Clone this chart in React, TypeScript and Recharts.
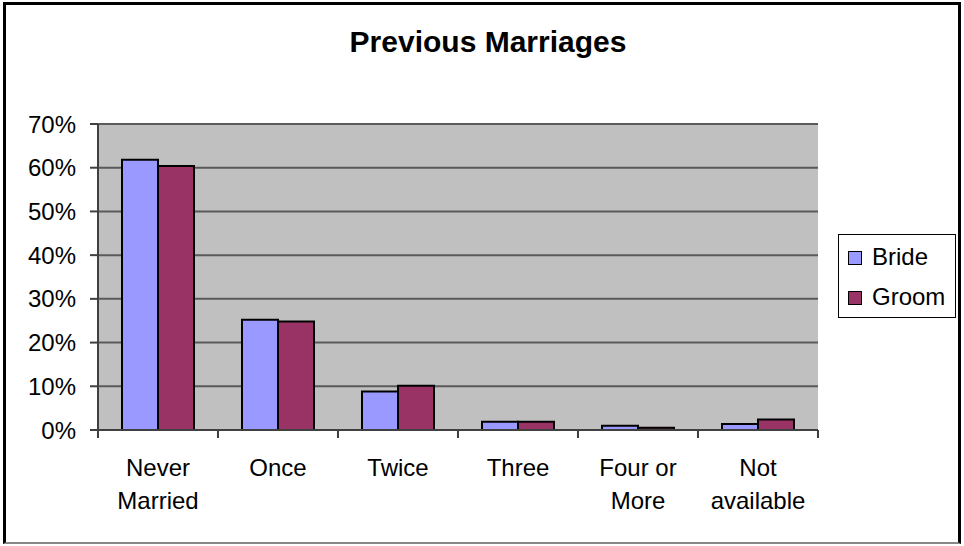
import React from 'react';
import { BarChart, Bar, XAxis, YAxis, CartesianGrid, Legend } from 'recharts';

// Previous marriages, share of brides and grooms
const categories = ['Never\nMarried', 'Once', 'Twice', 'Three', 'Four or\nMore', 'Not\navailable'];
const bride = [0.618, 0.252, 0.088, 0.019, 0.010, 0.014];
const groom = [0.604, 0.248, 0.101, 0.019, 0.005, 0.024];
const yTicks = [0, 0.1, 0.2, 0.3, 0.4, 0.5, 0.6, 0.7];

const data = categories.map((name, i) => ({ name, Bride: bride[i], Groom: groom[i] }));

const FONT = '"Liberation Sans", Arial, sans-serif';
const BRIDE_COLOR = '#9999FF';
const GROOM_COLOR = '#993366';

function CategoryTick(props: any) {
  const { x, y, payload, index, visibleTicksCount } = props;
  const half = payload && payload.offset ? payload.offset : 60;
  const lines = String(payload.value).split('\n');
  return (
    <g>
      <line x1={x - half} y1={y} x2={x - half} y2={y + 8} stroke="#404040" strokeWidth={2} />
      {index === visibleTicksCount - 1 && (
        <line x1={x + half} y1={y} x2={x + half} y2={y + 8} stroke="#404040" strokeWidth={2} />
      )}
      {lines.map((l: string, i: number) => (
        <text
          key={i}
          x={x}
          y={y + 46 + i * 33}
          textAnchor="middle"
          fontFamily={FONT}
          fontSize={24}
          fill="#000"
        >
          {l}
        </text>
      ))}
    </g>
  );
}

function LegendBox() {
  const items = [
    { label: 'Bride', color: BRIDE_COLOR },
    { label: 'Groom', color: GROOM_COLOR },
  ];
  return (
    <div
      style={{
        width: 118,
        height: 84,
        border: '1px solid #000',
        background: '#fff',
        boxSizing: 'border-box',
        fontFamily: FONT,
        fontSize: 24,
        paddingTop: 2,
      }}
    >
      {items.map((it) => (
        <div key={it.label} style={{ display: 'flex', alignItems: 'center', height: 40, paddingLeft: 9 }}>
          <span
            style={{
              display: 'inline-block',
              width: 12,
              height: 12,
              background: it.color,
              border: '1px solid #000',
              marginRight: 10,
              marginTop: 2,
            }}
          />
          <span>{it.label}</span>
        </div>
      ))}
    </div>
  );
}

export default function App() {
  return (
    <div style={{ position: 'absolute', left: 0, top: 0, width: 964, height: 546, background: '#fff' }}>
      <div
        style={{
          position: 'absolute',
          left: 3,
          top: 2,
          width: 958,
          height: 542,
          boxSizing: 'border-box',
          borderTop: '3px solid #000',
          borderLeft: '3px solid #000',
          borderRight: '3px solid #000',
          borderBottom: '2px solid #888',
        }}
      />
      <div
        style={{
          position: 'absolute',
          left: 6,
          top: 25,
          width: 964,
          textAlign: 'center',
          fontFamily: FONT,
          fontWeight: 'bold',
          fontSize: 30,
        }}
      >
        Previous Marriages
      </div>
      <div style={{ position: 'absolute', left: 0, top: 0 }}>
        <BarChart
          width={964}
          height={546}
          data={data}
          margin={{ top: 124, right: 146, bottom: 36, left: 18 }}
          barGap={0}
          barCategoryGap="20%"
        >
          <CartesianGrid
            vertical={false}
            stroke="#5a5a5a"
            strokeWidth={2}
            fill="#C0C0C0"
            fillOpacity={1}
          />
          <XAxis
            dataKey="name"
            height={80}
            interval={0}
            tickSize={0}
            tickMargin={0}
            tickLine={false}
            axisLine={{ stroke: '#404040', strokeWidth: 2 }}
            tick={<CategoryTick />}
          />
          <YAxis
            width={80}
            domain={[0, 0.7]}
            ticks={yTicks}
            tickFormatter={(v: number) => `${Math.round(v * 100)}%`}
            tickSize={8}
            tickMargin={14}
            tickLine={{ stroke: '#404040', strokeWidth: 2 }}
            axisLine={{ stroke: '#404040', strokeWidth: 2 }}
            tick={{ fontFamily: FONT, fontSize: 24, fill: '#000' }}
          />
          <YAxis
            yAxisId="right"
            orientation="right"
            width={0}
            tick={false}
            tickLine={false}
            axisLine={{ stroke: '#808080', strokeWidth: 2 }}
          />
          <Legend
            layout="vertical"
            align="center"
            verticalAlign="middle"
            wrapperStyle={{ position: 'absolute', left: 838, top: 234, width: 118, height: 84 }}
            content={() => <LegendBox />}
          />
          <Bar dataKey="Bride" fill={BRIDE_COLOR} stroke="#000" strokeWidth={2} isAnimationActive={false} />
          <Bar dataKey="Groom" fill={GROOM_COLOR} stroke="#000" strokeWidth={2} isAnimationActive={false} />
        </BarChart>
      </div>
    </div>
  );
}
